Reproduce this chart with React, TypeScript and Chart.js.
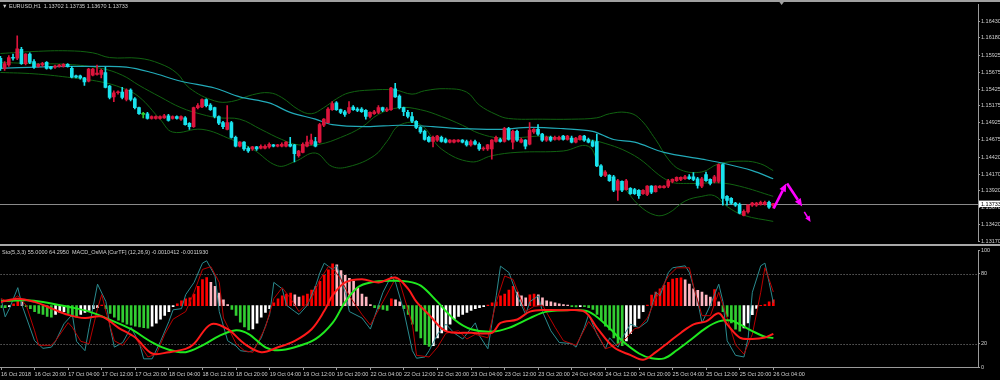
import React, { useEffect, useRef } from "react";
import { Chart, registerables } from "chart.js";
Chart.register(...registerables);

// ---------------- DATA ----------------
const opens = [1.1588,1.1573,1.1578,1.1589,1.1588,1.1601,1.1580,1.1594,1.1583,1.1576,1.1578,1.1582,1.1575,1.1575,1.1576,1.1576,1.1579,1.1573,1.1562,1.1562,1.1559,1.1554,1.1563,1.1564,1.1564,1.1567,1.1547,1.1531,1.1537,1.1538,1.1527,1.1541,1.1528,1.1515,1.1505,1.1506,1.1499,1.1499,1.1499,1.1500,1.1503,1.1499,1.1502,1.1498,1.1500,1.1492,1.1487,1.1515,1.1516,1.1527,1.1519,1.1515,1.1502,1.1493,1.1483,1.1493,1.1471,1.1458,1.1464,1.1455,1.1454,1.1457,1.1455,1.1455,1.1457,1.1460,1.1458,1.1458,1.1458,1.1461,1.1460,1.1444,1.1449,1.1458,1.1461,1.1465,1.1464,1.1489,1.1493,1.1512,1.1522,1.1512,1.1509,1.1508,1.1516,1.1513,1.1513,1.1511,1.1502,1.1506,1.1508,1.1515,1.1511,1.1512,1.1543,1.1532,1.1515,1.1508,1.1502,1.1495,1.1486,1.1480,1.1471,1.1465,1.1467,1.1471,1.1468,1.1464,1.1464,1.1465,1.1467,1.1465,1.1460,1.1465,1.1461,1.1454,1.1454,1.1454,1.1465,1.1468,1.1465,1.1484,1.1464,1.1480,1.1464,1.1467,1.1461,1.1479,1.1483,1.1476,1.1467,1.1471,1.1468,1.1468,1.1473,1.1468,1.1470,1.1464,1.1468,1.1473,1.1468,1.1465,1.1465,1.1429,1.1415,1.1415,1.1413,1.1393,1.1406,1.1394,1.1396,1.1394,1.1393,1.1388,1.1387,1.1399,1.1391,1.1397,1.1397,1.1399,1.1406,1.1407,1.1409,1.1410,1.1413,1.1413,1.1410,1.1399,1.1416,1.1409,1.1406,1.1406,1.1431,1.1384,1.1381,1.1374,1.1372,1.1356,1.1361,1.1371,1.1371,1.1372,1.1372,1.1375,1.13702];
const highs = [1.1591,1.1583,1.1592,1.1594,1.1621,1.1604,1.1595,1.1596,1.1586,1.1580,1.1582,1.1583,1.1576,1.1578,1.1579,1.1580,1.1580,1.1576,1.1563,1.1563,1.1560,1.1573,1.1573,1.1578,1.1572,1.1575,1.1548,1.1540,1.1540,1.1545,1.1543,1.1543,1.1530,1.1516,1.1508,1.1508,1.1503,1.1503,1.1503,1.1505,1.1505,1.1503,1.1503,1.1503,1.1502,1.1493,1.1516,1.1521,1.1528,1.1528,1.1521,1.1516,1.1503,1.1495,1.1518,1.1495,1.1473,1.1465,1.1465,1.1457,1.1458,1.1458,1.1460,1.1460,1.1463,1.1461,1.1461,1.1463,1.1465,1.1471,1.1461,1.1452,1.1463,1.1473,1.1476,1.1471,1.1492,1.1499,1.1515,1.1524,1.1524,1.1513,1.1511,1.1524,1.1518,1.1515,1.1515,1.1512,1.1509,1.1511,1.1518,1.1516,1.1515,1.1545,1.1551,1.1534,1.1516,1.1511,1.1508,1.1496,1.1487,1.1482,1.1473,1.1473,1.1474,1.1473,1.1470,1.1468,1.1468,1.1468,1.1468,1.1467,1.1467,1.1467,1.1463,1.1457,1.1461,1.1468,1.1473,1.1470,1.1486,1.1486,1.1482,1.1482,1.1470,1.1468,1.1493,1.1484,1.1490,1.1477,1.1473,1.1473,1.1473,1.1473,1.1474,1.1474,1.1473,1.1471,1.1474,1.1474,1.1470,1.1467,1.1476,1.1431,1.1422,1.1416,1.1415,1.1409,1.1407,1.1409,1.1397,1.1396,1.1394,1.1394,1.1400,1.1400,1.1400,1.1400,1.1400,1.1409,1.1410,1.1413,1.1413,1.1415,1.1416,1.1419,1.1412,1.1412,1.1420,1.1410,1.1415,1.1432,1.1432,1.1385,1.1382,1.1375,1.1374,1.1364,1.1372,1.1375,1.1375,1.1377,1.1377,1.1377,1.13735];
const lows = [1.1570,1.1570,1.1576,1.1585,1.1586,1.1579,1.1578,1.1580,1.1573,1.1575,1.1576,1.1572,1.1572,1.1573,1.1575,1.1575,1.1575,1.1559,1.1559,1.1557,1.1548,1.1553,1.1562,1.1563,1.1559,1.1544,1.1528,1.1524,1.1535,1.1528,1.1525,1.1525,1.1513,1.1505,1.1500,1.1498,1.1498,1.1498,1.1498,1.1499,1.1495,1.1498,1.1498,1.1496,1.1489,1.1483,1.1486,1.1513,1.1515,1.1516,1.1511,1.1500,1.1490,1.1484,1.1482,1.1470,1.1457,1.1457,1.1452,1.1449,1.1452,1.1452,1.1454,1.1454,1.1455,1.1457,1.1457,1.1457,1.1457,1.1457,1.1435,1.1442,1.1448,1.1457,1.1460,1.1457,1.1463,1.1487,1.1492,1.1511,1.1511,1.1506,1.1502,1.1506,1.1511,1.1509,1.1508,1.1498,1.1500,1.1505,1.1506,1.1509,1.1509,1.1511,1.1530,1.1513,1.1503,1.1500,1.1493,1.1484,1.1477,1.1467,1.1464,1.1457,1.1465,1.1464,1.1463,1.1463,1.1463,1.1464,1.1463,1.1458,1.1458,1.1460,1.1452,1.1452,1.1452,1.1439,1.1464,1.1464,1.1464,1.1467,1.1454,1.1465,1.1463,1.1454,1.1460,1.1477,1.1474,1.1465,1.1465,1.1465,1.1467,1.1467,1.1467,1.1467,1.1463,1.1463,1.1467,1.1465,1.1463,1.1457,1.1428,1.1413,1.1413,1.1406,1.1391,1.1378,1.1391,1.1393,1.1387,1.1387,1.1381,1.1387,1.1385,1.1388,1.1390,1.1396,1.1396,1.1397,1.1404,1.1406,1.1407,1.1409,1.1409,1.1407,1.1396,1.1397,1.1406,1.1401,1.1404,1.1404,1.1371,1.1371,1.1372,1.1369,1.1358,1.1355,1.1359,1.1369,1.1369,1.1371,1.1371,1.1366,1.13670];
const closes = [1.1573,1.1580,1.1589,1.1588,1.1602,1.1580,1.1594,1.1582,1.1575,1.1579,1.1580,1.1573,1.1573,1.1576,1.1578,1.1579,1.1576,1.1560,1.1560,1.1559,1.1553,1.1572,1.1572,1.1566,1.1570,1.1545,1.1530,1.1537,1.1538,1.1530,1.1541,1.1527,1.1515,1.1506,1.1505,1.1499,1.1502,1.1502,1.1502,1.1503,1.1496,1.1502,1.1499,1.1502,1.1490,1.1487,1.1515,1.1518,1.1527,1.1518,1.1512,1.1502,1.1492,1.1487,1.1493,1.1471,1.1458,1.1464,1.1454,1.1451,1.1457,1.1454,1.1458,1.1458,1.1461,1.1458,1.1460,1.1461,1.1464,1.1458,1.1447,1.1451,1.1461,1.1464,1.1467,1.1458,1.1490,1.1498,1.1513,1.1521,1.1512,1.1508,1.1505,1.1515,1.1512,1.1511,1.1509,1.1502,1.1508,1.1509,1.1515,1.1511,1.1513,1.1544,1.1531,1.1515,1.1509,1.1502,1.1495,1.1486,1.1479,1.1468,1.1465,1.1471,1.1473,1.1465,1.1464,1.1467,1.1467,1.1467,1.1464,1.1460,1.1465,1.1461,1.1454,1.1455,1.1460,1.1467,1.1471,1.1465,1.1484,1.1468,1.1480,1.1467,1.1468,1.1458,1.1482,1.1483,1.1476,1.1467,1.1471,1.1467,1.1471,1.1471,1.1468,1.1473,1.1464,1.1470,1.1473,1.1467,1.1464,1.1458,1.1429,1.1415,1.1420,1.1407,1.1393,1.1407,1.1393,1.1407,1.1388,1.1388,1.1385,1.1393,1.1399,1.1390,1.1399,1.1399,1.1399,1.1407,1.1409,1.1412,1.1412,1.1413,1.1410,1.1409,1.1400,1.1410,1.1407,1.1403,1.1413,1.1431,1.1381,1.1378,1.1374,1.1371,1.1359,1.1362,1.1371,1.1374,1.1374,1.1375,1.1375,1.1368,1.13733];

const maBars = [0,8,16,23,30,36,43,51,57,64,69,75,79,87,95,103,110,119,126,134,141,146,151,158,167,172,179,184];
const maVals = [1.1573,1.1575,1.1576,1.1576,1.1575,1.1567,1.1554,1.1544,1.1531,1.1522,1.1508,1.1498,1.1490,1.1487,1.1489,1.1487,1.1484,1.1483,1.1486,1.1484,1.1480,1.1468,1.1464,1.1449,1.1439,1.1433,1.1422,1.1410];

const upperBars = [0,8,16,22,26,33,38,42,45,51,55,60,64,67,71,74,77,80,83,88,94,98,101,106,111,114,118,121,129,136,142,145,149,152,156,159,162,167,171,177,181,184];
const upperVals = [1.1595,1.1598,1.1599,1.1596,1.1589,1.1588,1.1580,1.1566,1.1544,1.1525,1.1524,1.1534,1.1537,1.1530,1.1512,1.1506,1.1515,1.1528,1.1537,1.1541,1.1541,1.1535,1.1540,1.1543,1.1538,1.1519,1.1505,1.1499,1.1498,1.1498,1.1500,1.1506,1.1508,1.1500,1.1468,1.1439,1.1423,1.1420,1.1432,1.1436,1.1432,1.1422];
const midBars = [0,8,16,24,29,33,38,43,48,52,57,62,67,71,76,81,86,90,95,100,105,110,114,119,124,129,133,138,143,151,159,164,171,176,184];
const midVals = [1.1582,1.1580,1.1579,1.1573,1.1563,1.1548,1.1531,1.1515,1.1505,1.1500,1.1498,1.1483,1.1468,1.1460,1.1461,1.1471,1.1486,1.1505,1.1515,1.1512,1.1502,1.1489,1.1477,1.1470,1.1471,1.1473,1.1470,1.1468,1.1464,1.1444,1.1407,1.1403,1.1404,1.1399,1.1384];
const lowerBars = [0,8,16,24,29,33,38,41,48,55,60,66,70,75,79,83,89,92,95,100,105,112,117,123,134,140,143,148,152,156,159,163,167,170,173,177,184];
const lowerVals = [1.1567,1.1565,1.1560,1.1553,1.1544,1.1531,1.1498,1.1479,1.1483,1.1468,1.1454,1.1429,1.1435,1.1448,1.1428,1.1428,1.1444,1.1465,1.1489,1.1490,1.1454,1.1435,1.1444,1.1449,1.1451,1.1458,1.1425,1.1400,1.1371,1.1356,1.1359,1.1377,1.1384,1.1385,1.1369,1.1356,1.1347];

const priceTicks = [1.16430,1.16180,1.15925,1.15675,1.15425,1.15175,1.14925,1.14675,1.14420,1.14170,1.13920,1.13670,1.13420,1.13170];

const arrowBars = [[184.1,187.1],[187.3,190.9],[191.4,192.9]];
const arrowPrices = [[1.1366,1.1403],[1.1403,1.1369],[1.1361,1.1346]];
const arrowWidths = [2.6,2.6,1.6];
const shiftBar = 186;

const histVals = [-0.00007,-0.00007,-0.00004,0.00007,0.00018,0.00014,-0.00004,-0.00011,-0.00022,-0.00029,-0.00032,-0.0004,-0.00043,-0.00032,-0.00025,-0.00022,-0.00029,-0.0004,-0.00043,-0.00032,-0.00025,-0.00018,-0.00011,-0.00007,0.00002,-0.00011,-0.00029,-0.00043,-0.00054,-0.00061,-0.00068,-0.00072,-0.00076,-0.00079,-0.00081,-0.00083,-0.00076,-0.00065,-0.0005,-0.00036,-0.00022,-0.00004,0.00007,0.00018,0.00025,0.00029,0.00043,0.00072,0.00097,0.00104,0.00086,0.00072,0.00047,0.00022,0.00004,-0.00014,-0.00036,-0.00061,-0.00079,-0.0009,-0.00086,-0.00065,-0.00043,-0.00025,-0.00011,0.00011,0.00025,0.00036,0.00043,0.00047,0.0004,0.00032,0.00036,0.00043,0.00058,0.00072,0.0009,0.00112,0.00133,0.00155,0.00151,0.0013,0.00112,0.00101,0.0009,0.00065,0.00043,0.00032,0.00004,-0.00007,-0.00011,-0.00014,-0.00018,0.00025,0.00022,0.00014,-0.00011,-0.00032,-0.00068,-0.00094,-0.00119,-0.00144,-0.00151,-0.00148,-0.00119,-0.00101,-0.00094,-0.00068,-0.0005,-0.0004,-0.00032,-0.00025,-0.00018,-0.00011,-0.00007,-0.00004,0.00002,0.00011,0.00014,0.00036,0.00043,0.00058,0.00072,0.0005,0.00036,0.00029,0.0004,0.00043,0.0004,0.00029,0.00018,0.00014,0.00011,0.00007,0.00004,0.00002,-0.00004,-0.00005,-0.00004,-0.00004,-0.00007,-0.00014,-0.00032,-0.00054,-0.00076,-0.0009,-0.00119,-0.0014,-0.00148,-0.0013,-0.00104,-0.00076,-0.00047,-0.00022,0.00002,0.00039,0.0005,0.00062,0.00075,0.00086,0.00098,0.00101,0.00103,0.00096,0.0008,0.00062,0.00057,0.0005,0.00039,0.00032,0.0006,0.00014,-0.00022,-0.0004,-0.00064,-0.00087,-0.00094,-0.00082,-0.00064,-0.00033,-0.0001,0.00001,0.00004,0.00014,0.00022];

const stochMainBars = [0,1,2,4,5,8,10,12,13,15,17,18,20,21,23,25,26,27,29,31,33,34,36,38,40,41,43,44,46,48,49,51,52,54,56,57,59,60,62,64,65,67,68,70,71,73,75,76,77,79,80,82,83,86,88,91,93,94,96,98,99,101,102,104,106,108,110,113,114,116,118,119,121,123,125,126,128,129,131,133,136,137,139,140,142,144,145,147,148,150,152,154,156,157,159,160,163,164,166,167,169,171,172,173,175,177,178,179,181,182,183,184];
const stochMainVals = [58.6,43,50,68,53,22.5,16,17,22,37,45,22,14,34,71,56,34,17,21,34,20,7,7,22,39,49,50,62,72.5,89,91,78,47.5,22.5,18,14,13,14,25,45,72.5,67,53,47.5,45,53,70,81,89,83.6,86.7,64,47.5,42,32.5,64,78,72.5,47.5,14,7.5,8.6,14,28,36.7,29,24,37.8,26.7,15.6,61.4,86.4,81,61,45,56,61,47.5,31,21,20,17,34,45,28,15.6,25,17,25,36.7,33.6,39,64,61,81,85,86.7,81,56,37.8,53,71,56,22.5,10,8.6,25,64,86.7,89,72.5,55];
const stochSigBars = [0,2,4,6,8,9,12,13,16,17,19,21,23,24,25,27,29,31,32,35,37,39,41,44,46,48,50,52,53,56,58,60,63,65,67,69,71,74,76,78,79,81,83,86,88,91,94,95,98,99,102,104,106,109,111,113,116,118,120,122,125,127,129,132,134,137,140,142,144,147,149,151,152,154,156,159,161,164,165,167,169,171,173,175,177,179,181,182,183,184];
const stochSigVals = [58.6,56,61,53,31,18.6,18.6,22.5,38,34,22,20,50,62,47.5,22.5,18.6,28,25,8.6,11,28,41,47.5,64,83.6,86,72.5,42,20,14,12.5,34,58.6,68,58.6,47.5,58.6,75,86,85,75,61,45,36,56,76,72.5,36.7,10,8.6,17,29,31,24,28,25,56,78,75,47.5,52,53,34,22.5,18.6,39,29,15.6,19.4,25,33,33.6,42,58.6,78,85,85,69,44,44,64,42,19,11,28,64,85,75,64.295];

const macdBars = [0,4,8,12,16,20,24,28,32,36,40,44,46,50,54,58,62,66,70,74,77,79,82,86,90,94,97,99,102,106,112,117,119,123,126,130,134,139,142,146,150,153,156,159,162,165,168,171,173,176,179,182,184];
const macdVals = [0.00014,0.00026,0.00014,-0.0001,-0.00034,-0.00046,-0.0004,-0.00082,-0.00118,-0.00177,-0.00172,-0.0016,-0.00141,-0.00069,-0.00087,-0.00141,-0.00172,-0.00154,-0.0013,-0.00087,-0.0002,0.00038,0.00086,0.00098,0.00086,0.00104,0.00062,0.00014,-0.00034,-0.00094,-0.001,-0.001,-0.00064,-0.00051,-0.00022,-0.00016,-0.00017,-0.00022,-0.00082,-0.00154,-0.00183,-0.002,-0.00172,-0.00136,-0.001,-0.00069,-0.00058,-0.00028,-0.00069,-0.00118,-0.00123,-0.00118,-0.0010412];
const sigBars = [0,6,10,16,21,25,31,36,40,44,48,52,56,59,63,66,70,75,79,82,85,88,93,97,100,104,108,112,117,121,126,130,136,140,144,148,152,155,158,161,164,168,171,174,176,179,182,184];
const sigVals = [0.00017,0.0002,0.00014,-0.00004,-0.00022,-0.00046,-0.00087,-0.00136,-0.00163,-0.00172,-0.00147,-0.00112,-0.00091,-0.00105,-0.00154,-0.00165,-0.00154,-0.00123,-0.00064,0.00014,0.00068,0.00086,0.00092,0.00089,0.00074,0.00014,-0.00051,-0.00087,-0.00096,-0.00082,-0.00046,-0.00022,-0.00016,-0.00022,-0.00069,-0.0013,-0.00177,-0.00195,-0.00195,-0.00165,-0.0013,-0.00082,-0.00058,-0.00055,-0.00069,-0.00094,-0.00115,-0.001193];

const stochTicks = [0, 20, 80, 100];
const stochLevels = [20, 80];

const xTickBars = [0,8,16,24,32,40,48,56,64,72,80,88,96,104,112,120,128,136,144,152,160,168,176,184];
const xTickLabels = ["16 Oct 2018","16 Oct 20:00","17 Oct 04:00","17 Oct 12:00","17 Oct 20:00","18 Oct 04:00","18 Oct 12:00","18 Oct 20:00","19 Oct 04:00","19 Oct 12:00","19 Oct 20:00","22 Oct 04:00","22 Oct 12:00","22 Oct 20:00","23 Oct 04:00","23 Oct 12:00","23 Oct 20:00","24 Oct 04:00","24 Oct 12:00","24 Oct 20:00","25 Oct 04:00","25 Oct 12:00","25 Oct 20:00","26 Oct 04:00"];

// ---------------- STYLE ----------------
const FONT = "'Liberation Sans', Arial, sans-serif";
const FS = 5.5;
const TXT = "#d0d0d0";
const FRAME = "#9a9a9a";
const BULL = "#dc143c";
const BEAR = "#19e3ee";
const DOJI = "#2ecc2e";
const X_MIN = -0.1;
const X_MAX = 232.76;

const pts = (xs: number[], ys: number[]) => xs.map((x, i) => ({ x, y: ys[i] }));
const candleColor = (i: number) =>
  closes[i] > opens[i] ? BULL : closes[i] < opens[i] ? BEAR : DOJI;
const histColor = (i: number) => {
  const v = histVals[i];
  const p = i > 0 ? histVals[i - 1] : 0;
  if (v >= 0) return v >= p ? "#ff0000" : "#ffb6c1";
  return v <= p ? "#32cd32" : "#ffffff";
};

const topOverlay = {
  id: "topOverlay",
  beforeDatasetsDraw(chart: any) {
    const { ctx, chartArea, scales } = chart;
    const y = Math.round(scales.y.getPixelForValue(closes[closes.length - 1])) + 0.5;
    ctx.save();
    ctx.strokeStyle = "#8a8a8a";
    ctx.lineWidth = 1;
    ctx.beginPath();
    ctx.moveTo(chartArea.left, y);
    ctx.lineTo(chartArea.right, y);
    ctx.stroke();
    ctx.restore();
  },
  afterDraw(chart: any) {
    const { ctx, chartArea, scales } = chart;
    const xs = scales.x, ys = scales.y;
    ctx.save();
    ctx.fillStyle = "#ff00ff";
    ctx.strokeStyle = "#ff00ff";
    arrowBars.forEach((b, k) => {
      const x0 = xs.getPixelForValue(b[0]);
      const x1 = xs.getPixelForValue(b[1]);
      const y0 = ys.getPixelForValue(arrowPrices[k][0]);
      const y1 = ys.getPixelForValue(arrowPrices[k][1]);
      const dx = x1 - x0, dy = y1 - y0;
      const len = Math.hypot(dx, dy);
      const ux = dx / len, uy = dy / len;
      const w = arrowWidths[k];
      const hl = w > 2 ? 8 : 6;
      const hw = w > 2 ? 3.5 : 2.6;
      const bx = x1 - ux * hl, by = y1 - uy * hl;
      ctx.lineWidth = w;
      ctx.beginPath();
      ctx.moveTo(x0, y0);
      ctx.lineTo(bx, by);
      ctx.stroke();
      ctx.beginPath();
      ctx.moveTo(x1, y1);
      ctx.lineTo(bx - uy * hw, by + ux * hw);
      ctx.lineTo(bx + uy * hw, by - ux * hw);
      ctx.closePath();
      ctx.fill();
    });
    const last = closes[closes.length - 1];
    const py = ys.getPixelForValue(last);
    ctx.fillStyle = "#ffffff";
    ctx.fillRect(chartArea.right + 1, py - 3, 22, 6.5);
    ctx.fillStyle = "#000000";
    ctx.font = `${FS}px ${FONT}`;
    ctx.textBaseline = "middle";
    ctx.textAlign = "left";
    ctx.fillText(last.toFixed(5), chartArea.right + 3, py + 0.5);
    const sx = xs.getPixelForValue(shiftBar);
    ctx.fillStyle = "#a0a0a0";
    ctx.beginPath();
    ctx.moveTo(sx - 3, 1);
    ctx.lineTo(sx + 3, 1);
    ctx.lineTo(sx, 5);
    ctx.closePath();
    ctx.fill();
    ctx.restore();
  },
};

const botOverlay = {
  id: "botOverlay",
  beforeDatasetsDraw(chart: any) {
    const { ctx, chartArea, scales } = chart;
    ctx.save();
    ctx.strokeStyle = "#8c8c8c";
    ctx.lineWidth = 1;
    ctx.setLineDash([1, 2]);
    stochLevels.forEach((lv) => {
      const y = Math.round(scales.y.getPixelForValue(lv)) + 0.5;
      ctx.beginPath();
      ctx.moveTo(chartArea.left, y);
      ctx.lineTo(chartArea.right, y);
      ctx.stroke();
    });
    ctx.restore();
  },
};

const tickFont = { family: FONT, size: FS };

export default function App() {
  const topRef = useRef<HTMLCanvasElement>(null);
  const botRef = useRef<HTMLCanvasElement>(null);

  useEffect(() => {
    const top = new Chart(topRef.current as HTMLCanvasElement, {
      type: "bar",
      data: {
        datasets: [
          {
            type: "bar",
            data: opens.map((o, i) => ({ x: i, y: [o, closes[i]] })) as any,
            backgroundColor: opens.map((_, i) => candleColor(i)),
            barThickness: 3,
            minBarLength: 1,
            grouped: false,
            order: 0,
          },
          {
            type: "bar",
            data: lows.map((l, i) => ({ x: i, y: [l, highs[i]] })) as any,
            backgroundColor: opens.map((_, i) => candleColor(i)),
            barThickness: 1,
            grouped: false,
            order: 1,
          },
          {
            type: "line",
            data: pts(maBars, maVals),
            borderColor: "#22aab8",
            borderWidth: 1.2,
            pointRadius: 0,
            tension: 0.35,
            order: 2,
          },
          {
            type: "line",
            data: pts(upperBars, upperVals),
            borderColor: "#116211",
            borderWidth: 1,
            pointRadius: 0,
            tension: 0.4,
            order: 3,
          },
          {
            type: "line",
            data: pts(midBars, midVals),
            borderColor: "#116211",
            borderWidth: 1,
            pointRadius: 0,
            tension: 0.4,
            order: 3,
          },
          {
            type: "line",
            data: pts(lowerBars, lowerVals),
            borderColor: "#116211",
            borderWidth: 1,
            pointRadius: 0,
            tension: 0.4,
            order: 3,
          },
        ],
      },
      options: {
        responsive: false,
        animation: false,
        devicePixelRatio: 1,
        events: [],
        layout: { padding: { top: 3, bottom: 2, left: 0, right: 0 } },
        plugins: { legend: { display: false }, tooltip: { enabled: false } },
        scales: {
          x: {
            type: "linear",
            min: X_MIN,
            max: X_MAX,
            display: false,
            offset: false,
            grid: { offset: false },
          },
          y: {
            type: "linear",
            position: "right",
            min: 1.1317,
            max: 1.16677,
            afterFit: (s: any) => {
              s.width = 22;
            },
            afterBuildTicks: (s: any) => {
              s.ticks = priceTicks.map((v) => ({ value: v }));
            },
            ticks: {
              color: TXT,
              font: tickFont,
              padding: 1,
              callback: (v: any) => Number(v).toFixed(5),
            },
            grid: { drawOnChartArea: false, tickLength: 2, color: FRAME },
            border: { color: FRAME },
          },
        },
      } as any,
      plugins: [topOverlay],
    });

    const bot = new Chart(botRef.current as HTMLCanvasElement, {
      type: "bar",
      data: {
        datasets: [
          {
            type: "line",
            data: pts(macdBars, macdVals),
            yAxisID: "yMacd",
            borderColor: "#ff1a1a",
            borderWidth: 2,
            pointRadius: 0,
            tension: 0.35,
            order: 0,
          },
          {
            type: "line",
            data: pts(sigBars, sigVals),
            yAxisID: "yMacd",
            borderColor: "#1fe81f",
            borderWidth: 2,
            pointRadius: 0,
            tension: 0.35,
            order: 1,
          },
          {
            type: "line",
            data: pts(stochSigBars, stochSigVals),
            yAxisID: "y",
            borderColor: "#b80000",
            borderWidth: 1,
            pointRadius: 0,
            tension: 0,
            order: 2,
          },
          {
            type: "line",
            data: pts(stochMainBars, stochMainVals),
            yAxisID: "y",
            borderColor: "#2a8a8e",
            borderWidth: 1,
            pointRadius: 0,
            tension: 0,
            order: 3,
          },
          {
            type: "bar",
            data: histVals.map((v, i) => ({ x: i, y: v })),
            yAxisID: "yMacd",
            backgroundColor: histVals.map((_, i) => histColor(i)),
            barThickness: 2,
            grouped: false,
            order: 4,
          },
        ],
      },
      options: {
        responsive: false,
        animation: false,
        devicePixelRatio: 1,
        events: [],
        layout: { padding: { top: 1, bottom: 0, left: 0, right: 0 } },
        plugins: { legend: { display: false }, tooltip: { enabled: false } },
        scales: {
          x: {
            type: "linear",
            min: X_MIN,
            max: X_MAX,
            offset: false,
            afterFit: (s: any) => {
              s.height = 13;
            },
            afterBuildTicks: (s: any) => {
              s.ticks = xTickBars.map((v) => ({ value: v }));
            },
            ticks: {
              color: TXT,
              font: tickFont,
              align: "start",
              padding: 1,
              maxRotation: 0,
              minRotation: 0,
              autoSkip: false,
              callback: (_v: any, i: number) => xTickLabels[i],
            },
            grid: { drawOnChartArea: false, tickLength: 3, color: FRAME, offset: false },
            border: { color: FRAME },
          },
          y: {
            type: "linear",
            position: "right",
            min: 0,
            max: 100,
            afterFit: (s: any) => {
              s.width = 22;
            },
            afterBuildTicks: (s: any) => {
              s.ticks = stochTicks.map((v) => ({ value: v }));
            },
            ticks: { color: TXT, font: tickFont, padding: 1 },
            grid: { drawOnChartArea: false, tickLength: 2, color: FRAME },
            border: { color: FRAME },
          },
          yMacd: {
            type: "linear",
            display: false,
            min: -0.00227,
            max: 0.00205,
          },
        },
      } as any,
      plugins: [botOverlay],
    });

    return () => {
      top.destroy();
      bot.destroy();
    };
  }, []);

  const last = closes.length - 1;
  const headTop = `\u25BC EURUSD,H1  ${opens[last].toFixed(5)} ${highs[last].toFixed(5)} ${lows[last].toFixed(5)} ${closes[last].toFixed(5)}`;
  const headBot = `Sto(5,3,3) ${stochMainVals[stochMainVals.length - 1].toFixed(4)} ${stochSigVals[stochSigVals.length - 1].toFixed(4)}  MACD_OsMA [CurTF] (12,26,9) ${macdVals[macdVals.length - 1].toFixed(7)} ${sigVals[sigVals.length - 1].toFixed(7)}`;

  const labelStyle: React.CSSProperties = {
    position: "absolute",
    left: 2,
    color: TXT,
    fontFamily: FONT,
    fontSize: 5.5,
    lineHeight: "6px",
    whiteSpace: "pre",
    zIndex: 3,
  };

  return (
    <div style={{ position: "fixed", left: 0, top: 0, width: 1000, height: 380, background: "#000", overflow: "hidden" }}>
      <canvas ref={topRef} width={1000} height={246} style={{ position: "absolute", left: 0, top: 0, display: "block" }} />
      <canvas ref={botRef} width={1000} height={134} style={{ position: "absolute", left: 0, top: 246, display: "block" }} />
      <div style={{ position: "absolute", left: 0, top: 0, width: 1000, height: 2, background: "#a0a0a0", zIndex: 2 }} />
      <div style={{ position: "absolute", left: 0, top: 244, width: 1000, height: 2, background: "#a8a8a8", zIndex: 2 }} />
      <div style={{ ...labelStyle, top: 3 }}>{headTop}</div>
      <div style={{ ...labelStyle, top: 249 }}>{headBot}</div>
    </div>
  );
}
